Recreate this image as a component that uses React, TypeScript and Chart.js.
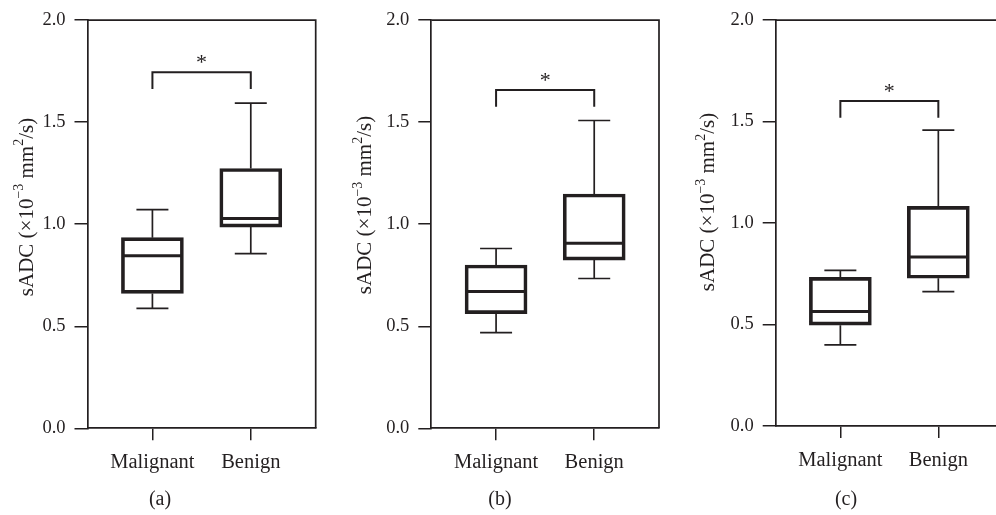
import React, { useEffect, useRef } from "react";
import { Chart, registerables } from "chart.js";

Chart.register(...registerables);

// ---------- data ----------
const groups = ["Malignant", "Benign"];
const yTickValues = [0, 0.5, 1.0, 1.5, 2.0];
const panelLabels = ["(a)", "(b)", "(c)"];
const yTitleParts = ["sADC (×10", "−3", " mm", "2", "/s)"]; // odd indexes are superscripts
const starText = "*";

// panel (a)  [Malignant, Benign]
const lowA = [0.588, 0.856];
const q1A = [0.661, 0.986];
const medA = [0.846, 1.028];
const q3A = [0.934, 1.273];
const highA = [1.071, 1.593];
const bracketA = [1.745, 1.662]; // [top, ends]

// panel (b)
const lowB = [0.469, 0.734];
const q1B = [0.562, 0.824];
const medB = [0.67, 0.907];
const q3B = [0.8, 1.148];
const highB = [0.881, 1.508];
const bracketB = [1.657, 1.575];

// panel (c)
const lowC = [0.4, 0.662];
const q1C = [0.497, 0.728];
const medC = [0.564, 0.833];
const q3C = [0.732, 1.082];
const highC = [0.767, 1.458];
const bracketC = [1.601, 1.519];

// ---------- styling / layout ----------
const FONT = '"Liberation Serif", "Times New Roman", serif';
const INK = "#231f20";
const H = 515;

type Panel = {
  label: string;
  left: number;
  width: number;
  area: { left: number; right: number; top: number; bottom: number };
  yTitle: { x: number; y: number };
  labelX: number;
  low: number[];
  q1: number[];
  med: number[];
  q3: number[];
  high: number[];
  bracket: number[];
};

const panels: Panel[] = [
  {
    label: panelLabels[0], left: 0, width: 330,
    area: { left: 87.5, right: 315.7, top: 13.7, bottom: 428.3 },
    yTitle: { x: 27, y: 207 }, labelX: 160,
    low: lowA, q1: q1A, med: medA, q3: q3A, high: highA, bracket: bracketA,
  },
  {
    label: panelLabels[1], left: 330, width: 330,
    area: { left: 101.3, right: 329, top: 13.7, bottom: 428.3 },
    yTitle: { x: 35.5, y: 205 }, labelX: 170,
    low: lowB, q1: q1B, med: medB, q3: q3B, high: highB, bracket: bracketB,
  },
  {
    label: panelLabels[2], left: 660, width: 350,
    area: { left: 115.7, right: 343, top: 11.3, bottom: 426 },
    yTitle: { x: 48.5, y: 202 }, labelX: 186,
    low: lowC, q1: q1C, med: medC, q3: q3C, high: highC, bracket: bracketC,
  },
];

function makeExtrasPlugin(p: Panel) {
  return {
    id: "boxExtras",
    afterDatasetsDraw(chart: any) {
      const ctx: CanvasRenderingContext2D = chart.ctx;
      const xs = chart.scales.x;
      const ys = chart.scales.y;
      const ca = chart.chartArea;
      ctx.save();
      ctx.strokeStyle = INK;
      ctx.lineCap = "butt";

      // frame: top & right
      ctx.lineWidth = 1.7;
      ctx.beginPath();
      ctx.moveTo(ca.left, ca.top);
      ctx.lineTo(ca.right, ca.top);
      ctx.lineTo(ca.right, ca.bottom);
      ctx.stroke();

      const capHalf = 16;
      const medHalf = 29;
      groups.forEach((_, i) => {
        const x = xs.getPixelForValue(i + 1);
        ctx.lineWidth = 1.7;
        ctx.beginPath();
        ctx.moveTo(x, ys.getPixelForValue(p.q3[i]));
        ctx.lineTo(x, ys.getPixelForValue(p.high[i]));
        ctx.moveTo(x - capHalf, ys.getPixelForValue(p.high[i]));
        ctx.lineTo(x + capHalf, ys.getPixelForValue(p.high[i]));
        ctx.moveTo(x, ys.getPixelForValue(p.q1[i]));
        ctx.lineTo(x, ys.getPixelForValue(p.low[i]));
        ctx.moveTo(x - capHalf, ys.getPixelForValue(p.low[i]));
        ctx.lineTo(x + capHalf, ys.getPixelForValue(p.low[i]));
        ctx.stroke();
        ctx.lineWidth = 3;
        ctx.beginPath();
        ctx.moveTo(x - medHalf, ys.getPixelForValue(p.med[i]));
        ctx.lineTo(x + medHalf, ys.getPixelForValue(p.med[i]));
        ctx.stroke();
      });

      // significance bracket
      const x1 = xs.getPixelForValue(1);
      const x2 = xs.getPixelForValue(2);
      const yt = ys.getPixelForValue(p.bracket[0]);
      const ye = ys.getPixelForValue(p.bracket[1]);
      ctx.lineWidth = 2;
      ctx.beginPath();
      ctx.moveTo(x1, ye);
      ctx.lineTo(x1, yt);
      ctx.lineTo(x2, yt);
      ctx.lineTo(x2, ye);
      ctx.stroke();
      ctx.fillStyle = INK;
      ctx.font = `22px ${FONT}`;
      ctx.textAlign = "center";
      ctx.textBaseline = "alphabetic";
      ctx.fillText(starText, (x1 + x2) / 2, yt - 3);

      // panel label
      ctx.textBaseline = "middle";
      ctx.font = `20px ${FONT}`;
      ctx.fillText(p.label, p.labelX, 500);

      // y axis title with superscripts
      const mainFont = `21px ${FONT}`;
      const supFont = `14px ${FONT}`;
      let total = 0;
      const widths = yTitleParts.map((t, k) => {
        ctx.font = k % 2 ? supFont : mainFont;
        const w = ctx.measureText(t).width;
        total += w;
        return w;
      });
      ctx.translate(p.yTitle.x, p.yTitle.y);
      ctx.rotate(-Math.PI / 2);
      ctx.textAlign = "left";
      ctx.textBaseline = "middle";
      let cx = -total / 2;
      yTitleParts.forEach((t, k) => {
        ctx.font = k % 2 ? supFont : mainFont;
        ctx.fillText(t, cx, k % 2 ? -7.5 : 0);
        cx += widths[k];
      });
      ctx.restore();
    },
  };
}

function PanelChart({ p }: { p: Panel }) {
  const ref = useRef<HTMLCanvasElement | null>(null);
  useEffect(() => {
    if (!ref.current) return;
    const chart = new Chart(ref.current, {
      type: "bar",
      data: {
        datasets: [
          {
            data: groups.map((_, i) => ({ x: i + 1, y: [p.q1[i], p.q3[i]] })) as any,
            backgroundColor: "rgba(255,255,255,0)",
            borderColor: INK,
            borderWidth: 3,
            borderSkipped: false,
            barThickness: 62,
          },
        ],
      },
      options: {
        animation: false,
        responsive: false,
        devicePixelRatio: 1,
        layout: { padding: { left: 0, top: p.area.top, right: p.width - p.area.right, bottom: 0 } },
        plugins: { legend: { display: false }, tooltip: { enabled: false }, title: { display: false } },
        scales: {
          x: {
            type: "linear",
            min: 0.34,
            max: 2.66,
            offset: false,
            afterBuildTicks: (s: any) => {
              s.ticks = groups.map((_, i) => ({ value: i + 1 }));
            },
            afterFit: (s: any) => {
              s.height = H - p.area.bottom;
            },
            ticks: {
              callback: (v: any) => groups[Number(v) - 1] ?? "",
              font: { family: FONT, size: 20.5 },
              color: INK,
              padding: 10,
              maxRotation: 0,
              autoSkip: false,
            },
            grid: { offset: false, drawOnChartArea: false, drawTicks: true, tickLength: 12, color: INK, lineWidth: 1.5 },
            border: { display: true, color: INK, width: 1.7 },
          },
          y: {
            type: "linear",
            min: 0,
            max: 2,
            afterBuildTicks: (s: any) => {
              s.ticks = yTickValues.map((v) => ({ value: v }));
            },
            afterFit: (s: any) => {
              s.width = p.area.left;
            },
            ticks: {
              callback: (v: any) => Number(v).toFixed(1),
              font: { family: FONT, size: 18.5 },
              color: INK,
              padding: 9,
            },
            grid: { drawOnChartArea: false, drawTicks: true, tickLength: 13, color: INK, lineWidth: 1.5 },
            border: { display: true, color: INK, width: 1.7 },
          },
        },
      } as any,
      plugins: [makeExtrasPlugin(p)],
    });
    return () => chart.destroy();
  }, [p]);
  return (
    <div style={{ position: "absolute", left: p.left, top: 0, width: p.width, height: H }}>
      <canvas ref={ref} width={p.width} height={H} style={{ display: "block" }} />
    </div>
  );
}

export default function App() {
  return (
    <div
      style={{
        position: "absolute",
        left: 0,
        top: 0,
        width: 996,
        height: H,
        overflow: "hidden",
        background: "#fff",
      }}
    >
      {panels.map((p) => (
        <PanelChart key={p.label} p={p} />
      ))}
    </div>
  );
}
